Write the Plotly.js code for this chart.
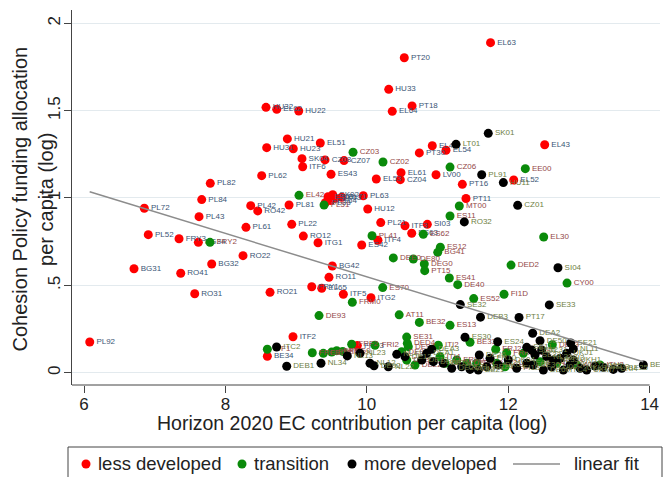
<!DOCTYPE html>
<html><head><meta charset="utf-8">
<script src="https://cdn.plot.ly/plotly-3.0.1.min.js"></script>
<style>html,body{margin:0;padding:0;background:#fff}#chart{width:664px;height:477px}</style>
</head><body><div id="chart"></div>
<script>
// less developed regions
const ldLab = ["PT20","HU33","PT18","EL64","HU32","EL62","HU22","EL63","HU21","HU31","HU23","EL51","SK04","CZ08","CZ07","ITF6","PL62","ES43","EL61","EL53","CZ04","LV00","EL41","EL54","PT30","EL43","PT16","EL52","PT11","PL82","PL84","PL72","PL43","PL42","RO42","PL81","PL61","PL52","FRY3","BG34","RO22","BG31","BG32","RO41","RO31","PL92","ES61","SK02","SK03","PL71","ES64","PL33","PL63","HU12","PL22","PL21","ITF3","SI03","ES63","RO12","ITG1","ITF4","ES42","BG42","RO11","RO21","FRY1","EL65","ITF5","ITG2","ITF2","BE34","FRF3"];
const ldX = [10.53,10.31,10.64,10.36,8.574,8.726,9.037,11.75,8.876,8.584,8.960,9.342,9.083,9.409,9.678,9.093,8.513,9.494,10.484,10.134,10.474,10.979,10.926,11.120,10.743,12.516,11.351,12.078,11.403,7.786,7.665,6.853,7.627,8.358,8.457,8.900,8.291,6.909,7.344,7.617,8.249,6.707,7.806,7.368,7.566,6.081,9.451,9.518,9.550,9.645,9.489,9.413,9.950,10.013,8.938,10.197,10.540,10.856,10.635,9.102,9.310,10.158,9.928,9.512,9.465,8.631,9.221,9.362,9.668,10.059,8.956,8.593,9.866];
const ldY = [1.803,1.622,1.527,1.496,1.519,1.508,1.498,1.889,1.338,1.288,1.282,1.315,1.225,1.218,1.214,1.179,1.128,1.136,1.145,1.109,1.105,1.133,1.299,1.273,1.258,1.305,1.078,1.103,0.997,1.084,0.991,0.941,0.893,0.956,0.926,0.960,0.832,0.790,0.767,0.746,0.670,0.595,0.622,0.569,0.452,0.176,1.007,1.019,0.998,1.004,0.985,0.973,1.013,0.937,0.849,0.859,0.841,0.849,0.798,0.782,0.744,0.758,0.731,0.611,0.546,0.460,0.492,0.483,0.449,0.429,0.206,0.094,0.155];

// transition regions
const trLab = ["CZ03","CZ02","CZ06","EE00","EL42","PL51","FRY2","PL41","ES62","MT00","ES11","ES12","BG41","DEE0","DE80","DEG0","PT15","ES41","DE40","ES70","FRM0","DE93","AT11","EL30","DED2","CY00","FI1D","ES52","BE32","ES13","SE31","DED4","DE94","ITI2","BE33","FRJ2","FRK1","ITF1","FRI2","FRC1","FRD1","FRE1","FRB0","FRG0","FRF2","DE73","DE91","DEB2","DE22","ITI4","DE24","FRH0","DE27","FRL0","AT21","DEC0","FRD2","AT31","DE72","AT22","ITH3"];
const trX = [9.805,10.229,11.177,12.242,9.041,9.395,7.782,10.074,10.799,11.308,11.177,11.040,11.003,10.375,10.658,10.813,10.819,11.167,11.286,10.225,9.795,9.324,10.458,12.502,12.040,12.832,11.941,11.512,10.743,11.177,10.564,10.573,10.587,11.011,11.460,11.823,11.979,8.593,10.116,9.229,9.385,9.503,9.574,9.659,9.786,12.624,10.494,10.564,10.682,11.035,11.106,11.272,11.413,11.554,11.837,11.955,12.214,12.450,12.686,12.969,13.298];
const trY = [1.262,1.206,1.177,1.168,1.015,0.960,0.746,0.784,0.792,0.954,0.897,0.718,0.689,0.657,0.651,0.622,0.584,0.542,0.504,0.487,0.403,0.327,0.331,0.777,0.616,0.513,0.449,0.424,0.288,0.271,0.204,0.168,0.149,0.157,0.174,0.134,0.114,0.134,0.157,0.114,0.111,0.118,0.126,0.122,0.163,0.160,0.120,0.073,0.044,0.092,0.054,0.073,0.054,0.054,0.054,0.034,0.111,0.063,0.054,0.044,0.044];

// more developed regions
const mdLab = ["SK01","LT01","PL91","HU11","CZ01","RO32","SI04","SE32","SE33","DEB3","PT17","DEA2","DE50","SE21","NL11","BE10","ITC2","DEB1","NL34","NL23","NL13","NL12","DE92","NL22","ES30","ES24","DE26","FR10","NL41","DE12","DE13","DEA1","DEA3","DEA4","DE11","DE21","DE71","AT13","BE21","BE24","DK01","DK04","FI1B","SE11","SE12","SE23","NL31","NL32","NL33","UKI3","UKJ1","UKH1","IE06","DE30","DE60","LU00","ITC4","DK02","UKK1","UKM7","DE25","BE23","UKI4","BE25"];
const mdX = [11.718,11.262,11.625,11.931,12.134,11.379,12.704,11.322,12.581,11.608,12.153,12.346,12.450,12.884,12.921,13.911,8.724,8.867,9.352,9.904,9.724,10.045,10.102,10.304,11.389,11.851,11.591,11.743,10.423,10.540,10.777,10.847,10.918,10.941,11.082,11.201,11.342,11.460,11.577,11.696,11.860,12.001,12.120,12.262,12.332,12.379,12.474,12.544,12.638,12.733,12.827,12.921,12.262,12.355,12.497,12.615,12.780,12.874,13.016,13.110,13.228,13.345,13.487,13.605];
const mdY = [1.370,1.307,1.133,1.088,0.958,0.863,0.601,0.390,0.388,0.318,0.316,0.226,0.183,0.170,0.136,0.044,0.147,0.037,0.054,0.111,0.096,0.054,0.040,0.034,0.203,0.177,0.101,0.082,0.105,0.092,0.073,0.111,0.134,0.063,0.054,0.025,0.034,0.019,0.015,0.034,0.044,0.073,0.025,0.145,0.130,0.101,0.130,0.092,0.073,0.082,0.111,0.073,0.054,0.044,0.015,0.034,0.015,0.044,0.025,0.015,0.038,0.031,0.019,0.025];

// linear fit endpoints
const fitX = [6.08, 13.91];
const fitY = [1.036, 0.063];

const yTickVals = [0, 0.5, 1, 1.5, 2];
const yTickText = ["0", ".5", "1", "1.5", "2"];
const xTickVals = [6, 8, 10, 12, 14];
const legendNames = ["less developed", "transition", "more developed", "linear fit"];

const FONT = "Liberation Sans, Arial, Helvetica, sans-serif";
const RED = "#ff0000", GREEN = "#0a8a0a", BLACK = "#000000", FIT = "#8c8c8c";
function pts(name, x, y, lab, col, tcol) {
  return {type:"scatter", mode:"markers+text", name:name, x:x, y:y, text:lab,
    textposition:"middle right", textfont:{family:FONT, size:8, color:tcol},
    marker:{color:col, size:9, line:{width:0}}, hoverinfo:"skip", cliponaxis:true};
}
const data = [
  pts(legendNames[0], ldX, ldY, ldLab, RED, "#3b5575"),
  pts(legendNames[1], trX, trY, trLab, GREEN, "#944848"),
  pts(legendNames[2], mdX, mdY, mdLab, BLACK, "#6f7f45"),
  {type:"scatter", mode:"lines", name:legendNames[3], x:fitX, y:fitY,
   line:{color:FIT, width:1.5}, hoverinfo:"skip"}
];

// plot area in pixels: left 72, top 10, width 588, height 375
const L = 72, T = 10, W = 588, H = 375;
const px = v => (v - L) / W;
const py = v => (T + H - v) / H;

const legY = 464;
const legItems = [
  {dot:86, tx:96, col:RED},
  {dot:242, tx:252, col:GREEN},
  {dot:352, tx:362, col:BLACK},
  {line:[513, 560], tx:572, col:FIT}
];
const shapes = [
  {type:"line", xref:"x", yref:"paper", x0:5.83, x1:14, y0:0, y1:0, line:{color:"#444", width:1}},
  {type:"rect", xref:"paper", yref:"paper", x0:px(68), x1:px(662), y0:py(447), y1:py(495),
   line:{color:"#444", width:1}, fillcolor:"rgba(0,0,0,0)"}
];
const annotations = [
  {text:"Horizon 2020 EC contribution per capita (log)", xref:"paper", yref:"paper",
   x:px(351.5), y:py(423), xanchor:"center", yanchor:"middle", showarrow:false,
   font:{family:FONT, size:19.5, color:"#222"}},
  {text:"Cohesion Policy funding allocation<br>per capita (log)", xref:"paper", yref:"paper",
   x:px(32.5), y:py(199), xanchor:"center", yanchor:"middle", showarrow:false, textangle:-90,
   font:{family:FONT, size:20, color:"#222"}}
];
legItems.forEach((it, i) => {
  if (it.line) {
    shapes.push({type:"line", xref:"paper", yref:"paper", x0:px(it.line[0]), x1:px(it.line[1]),
      y0:py(legY), y1:py(legY), line:{color:it.col, width:1.5}});
  } else {
    shapes.push({type:"circle", xref:"paper", yref:"paper", xsizemode:"pixel", ysizemode:"pixel",
      xanchor:px(it.dot), yanchor:py(legY), x0:-4.5, x1:4.5, y0:-4.5, y1:4.5,
      fillcolor:it.col, line:{width:0}});
  }
  annotations.push({text:legendNames[i], xref:"paper", yref:"paper", x:px(it.tx), y:py(legY),
    xanchor:"left", yanchor:"middle", showarrow:false, font:{family:FONT, size:18.5, color:"#222"}});
});

const layout = {
  width:664, height:477,
  margin:{l:L, r:664 - L - W, t:T, b:477 - T - H, autoexpand:false},
  paper_bgcolor:"#fff", plot_bgcolor:"#fff",
  font:{family:FONT, color:"#222"},
  showlegend:false,
  xaxis:{range:[5.83, 14.147], tickvals:xTickVals, ticks:"outside", ticklen:7, tickcolor:"#444",
    ticklabelstandoff:-3,
    showgrid:false, zeroline:false, showline:false,
    tickfont:{family:FONT, size:17, color:"#222"}},
  yaxis:{range:[-0.0704, 2.076], tickvals:yTickVals, ticktext:yTickText, tickangle:-90,
    ticks:"outside", ticklen:7, tickcolor:"#444", ticklabelstandoff:-3,
    showgrid:true, gridcolor:"#e3eaee", gridwidth:1, zeroline:false,
    showline:true, linecolor:"#444", linewidth:1,
    tickfont:{family:FONT, size:17, color:"#222"}},
  shapes:shapes,
  annotations:annotations
};
Plotly.newPlot("chart", data, layout, {displayModeBar:false, staticPlot:true});
</script></body></html>
